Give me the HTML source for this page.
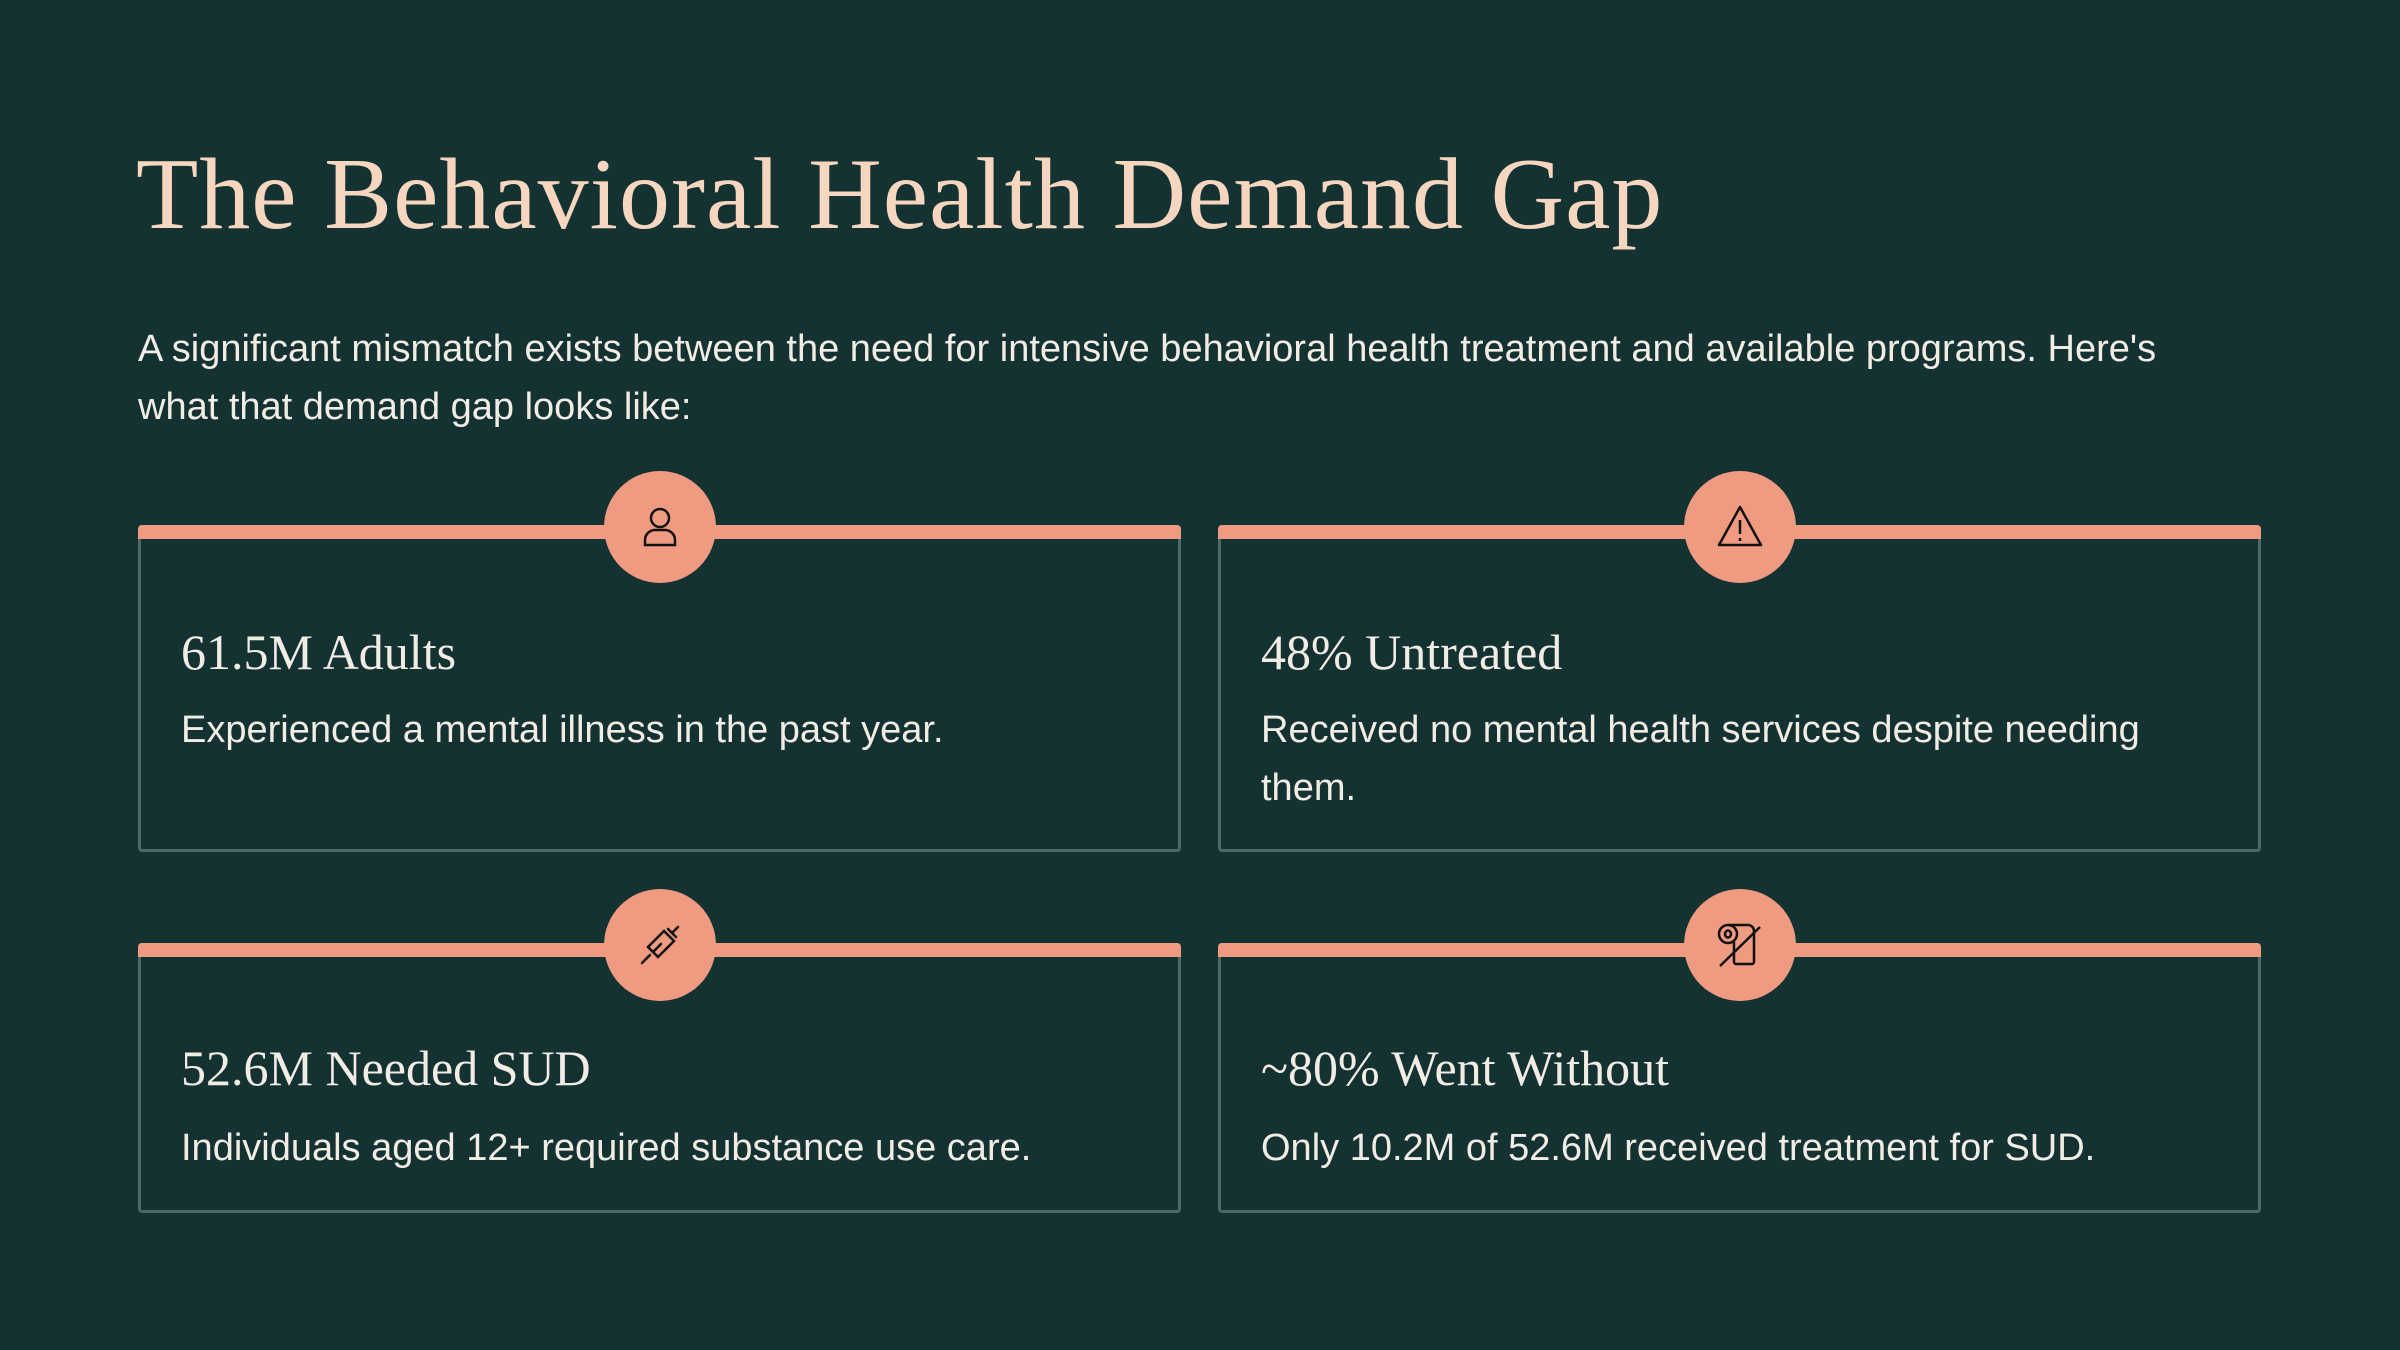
<!DOCTYPE html>
<html><head><meta charset="utf-8"><style>
*{margin:0;padding:0;box-sizing:border-box}
body{width:2400px;height:1350px;background:#153233;overflow:hidden;position:relative;font-family:"Liberation Sans",sans-serif}
h1{position:absolute;left:136px;top:136px;font-family:"Liberation Serif",serif;font-weight:400;font-size:102px;color:#f6d6bf;letter-spacing:1px;white-space:nowrap}
.p{position:absolute;left:138px;top:320px;width:2200px;font-size:38px;line-height:58px;color:#f1ece4;white-space:nowrap}
.card{position:absolute;border:3px solid #4b6a67;border-top:none;border-radius:4px}
.bar{position:absolute;left:-3px;right:-3px;top:0;height:14px;background:#ef9b81;border-radius:4px 4px 0 0}
.circ{position:absolute;width:112px;height:112px;border-radius:50%;background:#ef9b81;top:-54px;left:50%;margin-left:-56px;display:flex;align-items:center;justify-content:center}
.h{position:absolute;left:40px;font-family:"Liberation Serif",serif;font-size:50px;color:#f1ece4;white-space:nowrap}
.d{position:absolute;left:40px;right:40px;font-size:38px;line-height:58px;color:#f1ece4}
</style></head><body>
<h1>The Behavioral Health Demand Gap</h1>
<div class="p">A significant mismatch exists between the need for intensive behavioral health treatment and available programs. Here's<br>what that demand gap looks like:</div>

<div class="card" style="left:138px;top:525px;width:1043px;height:327px"><div class="bar"></div>
<div class="circ"><svg width="48" height="48" viewBox="0 0 48 48" fill="none" stroke="#111" stroke-width="2.5"><circle cx="24" cy="15" r="9"/><path d="M9 42v-5a10 10 0 0 1 10-10h10a10 10 0 0 1 10 10v5z"/></svg></div>
<div class="h" style="top:98px">61.5M Adults</div>
<div class="d" style="top:176px">Experienced a mental illness in the past year.</div></div>

<div class="card" style="left:1218px;top:525px;width:1043px;height:327px"><div class="bar"></div>
<div class="circ"><svg width="52" height="52" viewBox="0 0 52 52" fill="none" stroke="#111" stroke-width="2.5" stroke-linejoin="round"><path d="M26 6L47 44H5z"/><path d="M26 19v14M26 37v3"/></svg></div>
<div class="h" style="top:98px">48% Untreated</div>
<div class="d" style="top:176px">Received no mental health services despite needing them.</div></div>

<div class="card" style="left:138px;top:943px;width:1043px;height:270px"><div class="bar"></div>
<div class="circ"><svg width="52" height="52" viewBox="0 0 52 52" fill="none" stroke="#111" stroke-width="2.5" stroke-linecap="round"><path d="M8 44l8-8M14 28l10 10 16-16-10-10z M19 33l4-4M24 28l3-3M34 10l8 8M38 14l6-6"/></svg></div>
<div class="h" style="top:96px">52.6M Needed SUD</div>
<div class="d" style="top:176px">Individuals aged 12+ required substance use care.</div></div>

<div class="card" style="left:1218px;top:943px;width:1043px;height:270px"><div class="bar"></div>
<div class="circ"><svg width="52" height="52" viewBox="0 0 52 52" fill="none" stroke="#111" stroke-width="2.5"><ellipse cx="14" cy="15" rx="9" ry="9"/><ellipse cx="14" cy="15" rx="3" ry="3.5"/><path d="M14 6h20a6 6 0 0 1 6 6v31a2 2 0 0 1-2 2h-16a2 2 0 0 1-2-2v-20"/><path d="M6 47L46 8"/></svg></div>
<div class="h" style="top:96px">~80% Went Without</div>
<div class="d" style="top:176px">Only 10.2M of 52.6M received treatment for SUD.</div></div>
</body></html>
